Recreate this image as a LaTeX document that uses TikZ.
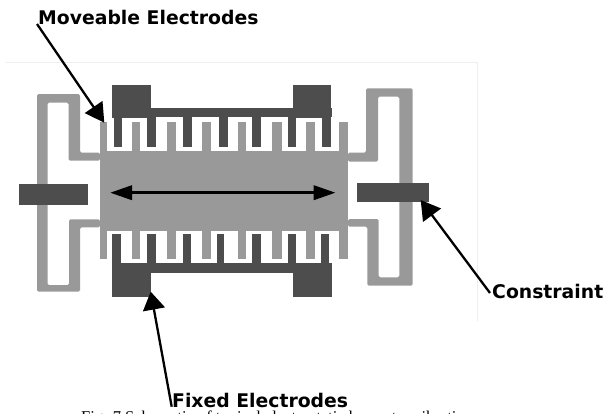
\documentclass[tikz,border=0pt]{standalone}
\usepackage{fontspec}
\setmainfont{Liberation Serif}
\newfontfamily\labelfont[Scale=1]{DejaVu Sans}
\usetikzlibrary{arrows.meta}
\definecolor{mover}{HTML}{999999}
\definecolor{fixedpart}{HTML}{4D4D4D}
\definecolor{frameline}{HTML}{EEEEEE}
\tikzset{
  moverpart/.style={fill=mover},
  fixpart/.style={fill=fixedpart},
  callout/.style={line width=2.3pt,draw=black},
  labeltext/.style={inner sep=0pt,anchor=base west,font=\labelfont\bfseries\fontsize{18.8}{22}\selectfont,text=black},
}
\begin{document}
\begin{tikzpicture}[x=1pt,y=-1pt]
\useasboundingbox (0,0) rectangle (615,413);
\draw[frameline,line width=0.7pt] (6,62) -- (477,62) -- (477,321);
% springs
\fill[moverpart,rounded corners=1.5pt] (100,152.7) -- (80,152.7) -- (80,94) -- (37,94) -- (37,291.7) -- (80,291.7) -- (80,227.3) -- (100,227.3) -- (100,219.3) -- (69,219.3) -- (69,285) -- (47.5,285) -- (47.5,102.7) -- (68.5,102.7) -- (68.5,160.7) -- (100,160.7) -- cycle;
\fill[moverpart,rounded corners=1.5pt] (348,152.7) -- (366,152.7) -- (366,88.3) -- (412.7,88.3) -- (412.7,285.7) -- (367.3,285.7) -- (367.3,226.7) -- (348,226.7) -- (348,219) -- (378.7,219) -- (378.7,277.3) -- (399.3,277.3) -- (399.3,96.7) -- (378,96.7) -- (378,161.7) -- (348,161.7) -- cycle;
% moveable body and teeth
\fill[moverpart] (100,150.7) rectangle (348,231);
\foreach \a/\b in {99.5/107,132/140,167/176,202/211,238/246,272/282,306/315,339/348}
  \fill[moverpart] (\a,122) rectangle (\b,151);
\foreach \a/\b in {99.5/107,132/140,167/176,202/211,238/246,272/282,306/315,339/348}
  \fill[moverpart] (\a,231) rectangle (\b,259);
% fixed electrodes, top
\fill[fixpart] (112,84.5) rectangle (150.5,118);
\fill[fixpart] (293.3,84.5) rectangle (331,118);
\fill[fixpart] (112,107.7) rectangle (332,117.3);
\foreach \a/\b in {114/121.7,146.7/156,182.7/192,219.3/228.3,251.7/260.7,287.7/296,321.7/330.7}
  \fill[fixpart] (\a,117) rectangle (\b,146.7);
% fixed electrodes, bottom
\fill[fixpart] (112,263.3) rectangle (150.5,296.7);
\fill[fixpart] (293.3,263.3) rectangle (332,296.7);
\fill[fixpart] (112,263.3) rectangle (332,273.3);
\foreach \a/\b in {112.3/120.7,146.7/156,182.7/190.7,216.7/224,251.7/260.7,287.7/296,320.7/329.3}
  \fill[fixpart] (\a,234) rectangle (\b,264);
% constraints
\node[fixpart,minimum width=69pt,minimum height=21.3pt,inner sep=0pt] (anchorL) at (53.5,194.6) {};
\node[fixpart,minimum width=71.4pt,minimum height=19pt,inner sep=0pt] (anchorR) at (393,192.8) {};
% motion arrow
\coordinate (motionL) at (110,192.7);
\coordinate (motionR) at (335.7,192.7);
\draw[line width=3.5pt,{Triangle[length=22pt,width=14pt]}-{Triangle[length=22pt,width=14pt]}] (motionL) -- (motionR);
% labels
\node[labeltext] (lblMove) at (38,24) {Moveable Electrodes};
\node[labeltext] (lblCon) at (492,298) {Constraint};
\node[labeltext] (lblFix) at (172,407.5) {Fixed Electrodes};
\node[inner sep=0pt,anchor=base west,font=\fontsize{16.5}{19}\selectfont] (caption) at (81,422) {Fig. 7 Schematic of typical electrostatic harvester vibration};
% callouts
\coordinate (moveStart) at (37,24);
\coordinate (moveTip) at (104.3,122.7);
\coordinate (conStart) at (490,293);
\coordinate (conTip) at (420.7,200);
\coordinate (fixStart) at (171.7,406.7);
\coordinate (fixTip) at (150.7,291.7);
\draw[callout,-{Triangle[length=19pt,width=21pt]}] (moveStart) -- (moveTip);
\draw[callout,-{Triangle[length=19pt,width=22pt]}] (conStart) -- (conTip);
\draw[callout,-{Triangle[length=18pt,width=22pt]}] (fixStart) -- (fixTip);
\end{tikzpicture}
\end{document}
